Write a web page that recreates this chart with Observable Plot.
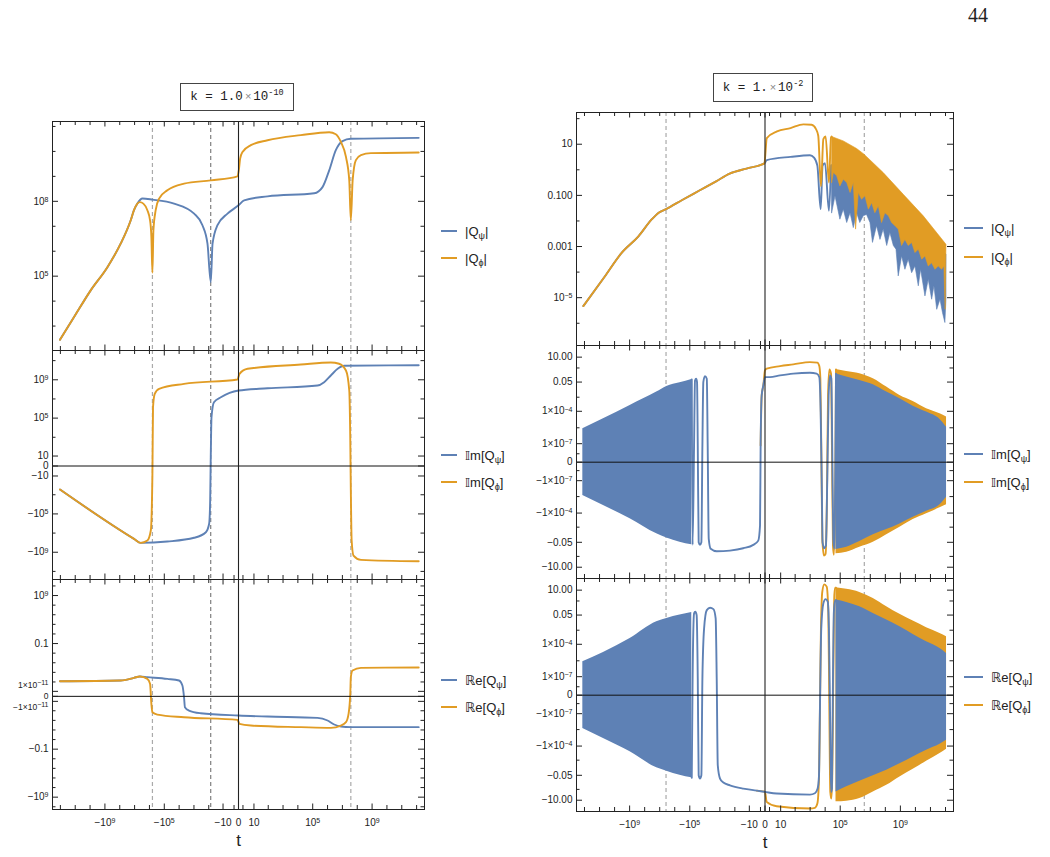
<!DOCTYPE html>
<html>
<head>
<meta charset="utf-8">
<script src="https://cdn.jsdelivr.net/npm/d3@7"></script>
<script src="https://cdn.jsdelivr.net/npm/@observablehq/plot@0.6"></script>
<style>
  html, body { margin: 0; padding: 0; background: #fff; }
  body { width: 1050px; height: 857px; position: relative; overflow: hidden;
         font-family: "Liberation Sans", Arial, "DejaVu Sans", sans-serif; color: #222; }
  .abs { position: absolute; }
  .page { font-family: "Liberation Serif", "Times New Roman", serif; font-size: 20px; line-height: 20px; left: 968px; top: 5px; color: #222; }
  .kbox { position: absolute; border: 1px solid #444; box-sizing: border-box; background: #fff;
          font-family: "Liberation Mono", "DejaVu Sans Mono", monospace; font-size: 12.5px; color: #222;
          display: flex; align-items: center; justify-content: center; }
  .kbox > span { white-space: pre; }
  .kbox .x { color: #888; font-family: "Liberation Sans", sans-serif; font-size: 11px; margin: 0 2px; }
  .kbox sup { font-size: 8.5px; vertical-align: 5px; line-height: 0; }
  .leg { position: absolute; display: flex; align-items: center; height: 18px; font-size: 13px; white-space: nowrap; color: #222; }
  .leg .sw { display: inline-block; height: 2px; margin-right: 8px; }
  .leg sub { font-size: 9px; vertical-align: -3px; line-height: 0; }
</style>
</head>
<body>
<div class="abs page">44</div>
<div class="kbox" style="left:180px; top:83px; width:114px; height:28px;"><span>k = 1.0<span class="x">×</span>10<sup>-10</sup></span></div>
<div class="kbox" style="left:713px; top:73px; width:100px; height:29px;"><span>k = 1.<span class="x">×</span>10<sup>-2</sup></span></div>
<script>
// ---------- colours ----------
const BLUE = "#5E81B5";
const ORANGE = "#E19C24";

// ---------- shared time axis (symmetric log in t) ----------
const X_DOMAIN = [-3.4e12, 3.4e12];
const X_TICKS = [0, 1, -1, 10, -10, 100, -100, 1e3, -1e3, 1e4, -1e4, 1e5, -1e5, 1e6, -1e6, 1e7, -1e7,
                 1e8, -1e8, 1e9, -1e9, 1e10, -1e10, 1e11, -1e11, 1e12, -1e12];
const X_LABEL_AT = [-1e9, -1e5, -10, 0, 10, 1e5, 1e9];
const X_LABELS = ["−10^9", "−10^5", "−10", "0", "10", "10^5", "10^9"];

// ---------- reference times ----------
const DASHED_L = [-6.3e5, 3.7e7];
const DASHED_L_DARK = [-73];
const DASHED_R = [-3.8e6, 4.0e6];

// ================= k = 1.0e-10 =================
// |Q_psi|
const tAbsPsiL = [-1.07e12, -1.23e11, -9.1e9, -6.8e8, -8.7e7, -1.82e7, -1.1e7, -6.5e6, -2.95e6, -6.3e5, -2.19e4, -976, -268, -122, -73, -55, -25, -4.5, 0, 1.4, 90, 1.26e5, 4.57e5, 1.29e6, 3.6e6, 1.02e7, 3.7e7, 1.38e12];
const absPsiL  = [282, 2240, 2.7e4, 2.3e5, 2.0e6, 1.74e7, 4.4e7, 8.1e7, 1.29e8, 1.17e8, 8.1e7, 3.2e7, 1.1e7, 2.0e6, 5.8e4, 2.0e6, 1.1e7, 3.2e7, 6.9e7, 1.1e8, 1.58e8, 2.1e8, 3.7e8, 1.74e9, 1.12e10, 2.6e10, 3.2e10, 3.5e10];
// |Q_phi|
const tAbsPhiL = [-1.07e12, -1.23e11, -9.1e9, -6.8e8, -8.7e7, -1.82e7, -1.1e7, -6.5e6, -4.4e6, -2.57e6, -1.38e6, -9.1e5, -7.4e5, -6.3e5, -5.4e5, -3.8e5, -2.24e5, -6.2e4, -4677, -73, -0.17, 0.047, 0.29, 0.86, 5.8, 90, 1.58e4, 1.29e6, 3.6e6, 7.9e6, 1.74e7, 2.9e7, 3.7e7, 4.9e7, 8.1e7, 1.78e8, 8.3e8, 1.38e12];
const absPhiL  = [282, 2240, 2.7e4, 2.3e5, 2.0e6, 1.74e7, 4.4e7, 8.1e7, 9.3e7, 8.1e7, 4.4e7, 1.74e7, 3.7e6, 1.38e5, 6.9e6, 4.4e7, 1.29e8, 2.75e8, 5.1e8, 6.9e8, 1.0e9, 1.74e9, 5.1e9, 9.5e9, 1.78e10, 2.8e10, 4.5e10, 5.9e10, 4.9e10, 2.4e10, 6.0e9, 6.9e8, 1.74e7, 6.9e8, 4.5e9, 7.1e9, 8.5e9, 9.1e9];
// Im[Q_psi]
const tImPsiL = [-1.07e12, -1.1e7, -3.9e6, -6.2e4, -976, -157, -94, -80, -73, -65, -44, -14.5, 0, 90, 2.1e5, 5.9e5, 1.66e6, 4.8e6, 1.32e7, 1.38e12];
const imPsiL  = [-282, -4.0e7, -1.05e8, -7.6e7, -3.1e7, -8.1e6, -1.07e6, -4000, 7.3, 1.2e5, 4.6e6, 1.5e7, 7.6e7, 1.3e8, 2.5e8, 5.6e8, 2.8e9, 1.4e10, 2.9e10, 3.3e10];
// Im[Q_phi]
const tImPhiL = [-1.07e12, -1.1e7, -3.9e6, -1.38e6, -8.1e5, -6.3e5, -5.75e5, -4.4e5, -2.24e5, -4677, -0.17, 0.17, 3.1, 1.58e4, 1.66e6, 6.0e6, 1.74e7, 2.9e7, 3.4e7, 3.7e7, 4.2e7, 5.6e7, 1.78e8, 1.38e12];
const imPhiL  = [-282, -4.0e7, -1.05e8, -6e7, -5.4e6, -5.5, 1.38e6, 3.4e7, 1.15e8, 3.8e8, 1.07e9, 4.2e9, 1.4e10, 3.9e10, 6.3e10, 4.7e10, 9.3e9, 7.6e7, 457, -362, -6e7, -2.2e9, -6.2e9, -8.7e9];
// Re[Q_psi]
const tRePsiL = [-1.07e12, -8.7e7, -1.1e7, -4.4e6, -1.38e6, -6.2e4, -1.02e4, -6025, -4677, -4073, -2187, -354, 0, 90, 2.1e5, 1e6, 2.8e6, 7.9e6, 3.7e7, 1.38e12];
const rePsiL  = [1.44e-9, 2.0e-9, 7.2e-9, 1.37e-8, 1e-8, 4.4e-9, 2e-9, 1.8e-10, -5e-13, -1.8e-10, -8.9e-10, -3.2e-9, -9.8e-9, -1.6e-8, -3e-8, -1.07e-7, -7.3e-7, -1.9e-6, -2.6e-6, -2.6e-6];
// Re[Q_phi]
const tRePhiL = [-1.07e12, -8.7e7, -1.1e7, -4.4e6, -1.38e6, -9.1e5, -7.4e5, -6.3e5, -2.95e5, -4677, -0.17, 0.17, 5.8, 1.58e4, 1.66e6, 7.9e6, 1.74e7, 2.6e7, 3.4e7, 3.7e7, 4.8e7, 1.78e8, 1.38e12];
const rePhiL  = [1.44e-9, 2.0e-9, 7.2e-9, 1.37e-8, 4.4e-9, 4e-10, -3.5e-11, -2e-9, -6.2e-9, -2.2e-8, -7.9e-8, -5.4e-7, -1.2e-6, -2.6e-6, -3.6e-6, -1.2e-6, -2.4e-7, -4.4e-9, 2.3e-12, 1e-8, 2.4e-7, 8.7e-7, 1.0e-6];

// ================= k = 1e-2 =================
// |Q_psi| smooth part
const tAbsPsiR = [-1.2e12, -4.6e10, -3.5e9, -2.6e8, -3.3e7, -1.17e7, -3.8e6, -3.2e5, -2.3e4, -1780, -223, -16, -0.1, 0.32, 49, 976, 1819, 3019, 5011, 6760, 9772, 1.78e4, 2.45e4];
const absPsiR  = [4.7e-6, 6.6e-5, 5.5e-4, 0.0025, 0.0117, 0.021, 0.029, 0.066, 0.155, 0.355, 0.71, 1.12, 1.78, 2.4, 3.2, 3.7, 3.0, 1.45, 0.029, 1.45, 1.82, 0.025, 1.5];
// |Q_phi| smooth part
const tAbsPhiR = [-1.2e12, -4.6e10, -3.5e9, -2.6e8, -3.3e7, -1.17e7, -3.8e6, -3.2e5, -2.3e4, -1780, -223, -16, -0.1, 0.32, 5.3, 49, 354, 1258, 2454, 3466, 5247, 7585, 1.07e4, 1.78e4, 2.45e4, 2.7e4];
const absPhiR  = [4.7e-6, 6.6e-5, 5.5e-4, 0.0025, 0.0117, 0.021, 0.029, 0.066, 0.155, 0.355, 0.71, 1.12, 1.78, 17.4, 31.6, 42.7, 60, 57.5, 38.9, 21.4, 0.23, 15.8, 20, 0.32, 18.2, 20];
// |Q| oscillating band: upper envelopes and spiky lower edges
const tAbsPhiTop = [2.7e4, 1.6e5, 1.23e6, 3.8e6, 7.2e7, 1.55e9, 3.3e10, 1.07e12];
const absPhiTop  = [20, 13.5, 6.8, 4.1, 0.78, 0.11, 0.0158, 0.00123];
const tAbsPhiLow = [2.7e4, 3.5e4, 5.8e4, 9.5e4, 1.6e5, 2.7e5, 4.5e5, 7.4e5, 1.05e6, 1.6e6, 2.6e6, 4.4e6, 7.4e6, 1.23e7, 2.0e7, 3.4e7, 5.6e7, 9.3e7, 1.6e8, 2.6e8, 4.4e8, 7.2e8, 1.2e9, 2.0e9, 3.3e9, 5.6e9, 9.3e9, 1.55e10, 2.6e10, 4.3e10, 7.1e10, 1.2e11, 2.0e11, 3.3e11, 5.5e11, 7.8e11, 9.5e11, 1.07e12];
const absPhiLow  = [0.32, 0.78, 0.58, 0.235, 0.43, 0.32, 0.13, 0.32, 0.0048, 0.13, 0.071, 0.096, 0.029, 0.052, 0.021, 0.039, 0.0087, 0.021, 0.016, 0.0087, 0.0065, 0.0048, 0.0011, 0.0019, 0.0011, 0.00145, 5.8e-4, 7.9e-4, 3.2e-4, 4.3e-4, 1.74e-4, 2.3e-4, 1.29e-4, 1.74e-4, 1.29e-4, 1.74e-4, 3.5e-6, 1.1e-3];
const tAbsPsiTop = [2.45e4, 1.6e5, 3.8e6, 7.2e7, 1.55e9, 3.3e10, 1.07e12];
const absPsiTop  = [1.5, 4, 1.5, 0.3, 0.04, 0.006, 5e-4];
const tAbsPsiLow = [2.7e4, 4.5e4, 9.5e4, 1.6e5, 2.7e5, 4.5e5, 7.4e5, 1.23e6, 2.0e6, 3.4e6, 5.6e6, 9.5e6, 1.4e7, 2.6e7, 4.4e7, 7.2e7, 1.23e8, 2.0e8, 3.4e8, 5.1e8, 7.2e8, 1.2e9, 2.0e9, 3.3e9, 5.6e9, 9.3e9, 1.55e10, 2.2e10, 4.3e10, 7.1e10, 1.2e11, 1.7e11, 2.6e11, 4.3e11, 6.3e11, 9.1e11, 1.07e12];
const absPsiLow  = [0.021, 0.096, 0.0117, 0.029, 0.0087, 0.021, 0.0055, 0.021, 0.0087, 0.016, 0.018, 0.0087, 0.00145, 0.0065, 0.0019, 0.0048, 0.0011, 0.0035, 0.0011, 7.9e-4, 7.1e-5, 4.3e-4, 1.29e-4, 3.2e-4, 9.5e-5, 1.74e-4, 2.9e-5, 1.29e-4, 1.17e-5, 5.2e-5, 8.7e-6, 2.9e-5, 3.5e-6, 8.7e-6, 2.6e-6, 1.07e-6, 8.7e-6];

// oscillation envelopes for Im / Re (early and late times)
const tBandEarly = [-1.29e12, -5.5e10, -9.3e8, -1.58e7, -3.4e6, -4.5e5, -7.4e4];
const tBandLate  = [5.25e4, 2.7e5, 2.0e6, 1.58e7, 1.23e8, 9.3e8, 7.1e9, 5.5e10, 4.3e11, 1.17e12];

// Im[Q_psi]
const imPsiEarlyHi = [2.4e-6, 2.05e-5, 3.5e-4, 0.0059, 0.02, 0.043, 0.088];
const imPsiEarlyLo = [-2.4e-6, -2.0e-5, -3.4e-4, -0.0083, -0.02, -0.0496, -0.086];
const tImPsiR = [-7.4e4, -6.5e4, -5.2e4, -4.5e4, -3.8e4, -3.3e4, -2.95e4, -2.57e4, -2.1e4, -1.7e4, -1.45e4, -1.26e4, -9772, -7413, -6456, -5495, -4073, -1621, -213, -27, -5, -1.8, -1.14, -0.95, -0.66, -0.29, 0, 1.14, 9, 75, 976, 2690, 4073, 5011, 5888, 6760, 8709, 1.12e4, 1.38e4, 1.7e4, 2.1e4, 2.57e4, 2.95e4, 3.47e4, 4.07e4, 4.68e4, 5.25e4];
const imPsiR  = [0.088, -0.086, 6.8e-8, 0.071, 0.102, 0.0496, 6.8e-8, -0.0496, -0.086, -0.0496, 6.8e-8, 0.0496, 0.177, 0.102, 6.8e-8, -0.024, -0.2, -0.34, -0.29, -0.177, -0.086, -0.035, -1.42e-3, 6.8e-8, 0.0029, 0.0245, 0.144, 0.144, 0.206, 0.30, 0.36, 0.30, 0.144, 8.4e-5, -6.7e-8, -0.0496, -0.177, -0.1, -6.7e-8, 0.0029, 0.206, 0.102, 6.8e-8, -0.024, -0.2, -6.7e-8, 0.30];
const imPsiLateHi = [0.30, 0.144, 0.071, 0.0284, 0.0059, 1.45e-3, 3.0e-4, 8.4e-5, 1.77e-5, 3.4e-6];
const imPsiLateLo = [-0.234, -0.144, -0.0427, -0.0102, -0.0033, -1.0e-3, -2.4e-4, -6.8e-5, -1.73e-5, -3.4e-6];
// Im[Q_phi]
const tImPhiR = [-0.95, -0.66, -0.29, 0, 0.29, 9, 75, 976, 3019, 4073, 4786, 5495, 6456, 8317, 1.07e4, 1.32e4, 1.55e4, 1.9e4, 2.45e4, 2.82e4, 3.3e4, 3.8e4, 4.68e4, 5.25e4];
const imPhiR  = [6.8e-8, 0.0029, 0.0245, 0.6, 0.86, 1.49, 2.14, 3.5, 3.1, 1.49, 0.102, 6.8e-8, -0.024, -0.84, -0.58, -2.4e-6, 0.0029, 0.74, 0.30, 6.8e-8, -0.1, -0.72, -2.4e-6, 0.74];
const imPhiLateHi = [0.74, 0.48, 0.30, 0.102, 0.0171, 0.0029, 8.1e-4, 1.72e-4, 5.9e-5, 2.9e-5];
const imPhiLateLo = [-0.58, -0.42, -0.144, -0.0496, -0.0102, -0.0020, -3.95e-4, -1.17e-4, -3.3e-5, -1.73e-5];

// Re[Q_psi]
const rePsiEarlyHi = [2.4e-6, 1.77e-5, 3.5e-4, 0.0122, 0.0245, 0.0496, 0.088];
const rePsiEarlyLo = [-2.4e-6, -2.0e-5, -3.4e-4, -0.0102, -0.021, -0.0496, -0.086];
const tRePsiR = [-7.4e4, -6.5e4, -5.2e4, -4.3e4, -3.5e4, -2.95e4, -2.57e4, -2.1e4, -1.7e4, -1.45e4, -1.12e4, -7413, -4467, -2690, -1905, -1621, -1379, -976, -588, -213, -27, -2.5, 0, 5, 976, 2088, 3161, 3889, 4466, 5494, 7585, 1.07e4, 1.48e4, 1.78e4, 2.1e4, 2.45e4, 2.82e4, 3.3e4, 3.8e4, 4.47e4, 5.25e4];
const rePsiR  = [-0.086, 6.8e-8, 0.071, 0.102, 0.0496, 6.8e-8, -0.0496, -0.1, -0.0496, 6.8e-8, 0.0029, 0.144, 0.24, 0.177, 0.0245, 6.8e-8, -0.0059, -0.1, -0.234, -0.42, -0.84, -1.29, -1.7, -2.43, -3.03, -2.28, -0.84, -0.0496, -6.7e-8, 0.0029, 0.6, 1.49, 0.86, 0.0029, -6.7e-8, -1.7, -0.84, 6.8e-8, 0.102, 0.86, 1.2];
const rePsiLateHi = [1.2, 0.74, 0.30, 0.071, 0.0171, 0.0042, 8.1e-4, 1.72e-4, 4.1e-5, 1.43e-5];
const rePsiLateLo = [-1.7, -0.58, -0.177, -0.056, -0.0171, -0.0043, -1.0e-3, -2.4e-4, -6.8e-5, -2.9e-5];
// Re[Q_phi]
const tRePhiR = [-2.5, 0, 0.29, 5, 976, 2088, 3019, 3889, 4466, 5247, 6456, 8709, 1.26e4, 1.62e4, 1.9e4, 2.19e4, 2.57e4, 2.95e4, 3.47e4, 4.07e4, 4.68e4, 5.25e4];
const rePhiR  = [-1.29, -1.7, -14.2, -36, -59, -50, -20.5, -0.1, -6.7e-8, 0.0029, 7.2, 34, 21, 0.102, -6.7e-8, -1.7, -7.1, -0.1, 6.8e-8, 3.5, 16.9, 16.9];
const rePhiLateHi = [16.9, 11.8, 6.2, 1.73, 0.30, 0.058, 0.0138, 0.0034, 1.0e-3, 5.0e-4];
const rePhiLateLo = [-14.2, -12.6, -7.1, -1.7, -0.42, -0.070, -0.0138, -0.0025, -4.9e-4, -1.97e-4];

// ---------- y-axis ticks and labels (a "^" starts a superscript) ----------
const L1_TICKS = [1e3, 1e4, 1e5, 1e6, 1e7, 1e8, 1e9, 1e10, 1e11];
const L1_LABEL_AT = [1e5, 1e8];
const L1_LABELS = ["10^5", "10^8"];
const L2_TICKS = [0, 10, -10, 1e3, -1e3, 1e5, -1e5, 1e7, -1e7, 1e9, -1e9, 1e11, -1e11];
const L2_LABEL_AT = [1e9, 1e5, 10, 0, -10, -1e5, -1e9];
const L2_LABELS = ["10^9", "10^5", "10", "0", "−10", "−10^5", "−10^9"];
const L3_TICKS = [0, 1e-11, -1e-11, 1e-9, -1e-9, 1e-7, -1e-7, 1e-5, -1e-5, 1e-3, -1e-3, 0.1, -0.1, 10, -10, 1e3, -1e3, 1e5, -1e5, 1e7, -1e7, 1e9, -1e9, 1e11, -1e11];
const L3_LABEL_AT = [1e9, 0.1, 1e-11, 0, -1e-11, -0.1, -1e9];
const L3_LABELS = ["10^9", "0.1", "1×10^−11", "0", "−1×10^−11", "−0.1", "−10^9"];
const L3_LABEL_SHIFT = [0, 0, -6, 0, 6, 0, 0];
const L3_LABEL_SIZE = [10, 10, 8.5, 8.5, 8.5, 10, 10];
const R1_TICKS = [1e-6, 1e-5, 1e-4, 1e-3, 1e-2, 0.1, 1, 10, 100];
const R1_LABEL_AT = [10, 0.1, 0.001, 1e-5];
const R1_LABELS = ["10", "0.100", "0.001", "10^−5"];
const R23_TICKS = [0, 1e-8, -1e-8, 1e-7, -1e-7, 3e-6, -3e-6, 1e-4, -1e-4, 2e-3, -2e-3, 0.05, -0.05, 1, -1, 10, -10];
const R23_LABEL_AT = [10, 0.05, 1e-4, 1e-7, 0, -1e-7, -1e-4, -0.05, -10];
const R23_LABELS = ["10.00", "0.05", "1×10^−4", "1×10^−7", "0", "−1×10^−7", "−1×10^−4", "−0.05", "−10.00"];

// ---------- row builders ----------
const pts = (t, y) => t.map((v, i) => ({t: v, y: y[i]}));
const band = (t, lo, hi) => t.map((v, i) => ({t: v, lo: lo[i], hi: hi[i]}));
const polygon = (tTop, yTop, tLow, yLow) =>
  pts(tTop, yTop).concat(pts(tLow, yLow).reverse());

const curve = (rows, color) => Plot.line(rows, {x: "t", y: "y", stroke: color, strokeWidth: 1.9, curve: "monotone-x", clip: true});
const area = (rows, color) => Plot.areaY(rows, {x: "t", y1: "lo", y2: "hi", fill: color, curve: "monotone-x", clip: true});
const blob = (rows, color) => Plot.line(rows, {x: "t", y: "y", fill: color, stroke: color, strokeWidth: 0.6, curve: "linear-closed", clip: true});

// turn "a^b" tick texts into a base and a raised exponent
const SVGNS = "http://www.w3.org/2000/svg";
function raiseExponents(svg) {
  svg.querySelectorAll("text").forEach(el => {
    const s = el.textContent;
    if (!s.includes("^")) return;
    const [base, exp] = s.split("^");
    el.textContent = "";
    const a = document.createElementNS(SVGNS, "tspan");
    a.textContent = base;
    const b = document.createElementNS(SVGNS, "tspan");
    b.textContent = exp;
    b.setAttribute("dy", "-0.42em");
    b.setAttribute("font-size", "7");
    el.append(a, b);
  });
}

// ---------- panel factory ----------
const FONT = '"Liberation Sans", Arial, "DejaVu Sans", sans-serif';
function panel(cfg) {
  const [fx0, fy0, fx1, fy1] = cfg.frame;
  const W = fx1 - fx0, H = fy1 - fy0;
  const ML = 70, MR = 6, MT = 4, MB = cfg.bottom ? 50 : 4;
  const marks = [];
  for (const t of cfg.dashed) marks.push(Plot.ruleX([t], {stroke: "#aaa", strokeDasharray: "4,3", strokeWidth: 1.2}));
  for (const t of (cfg.dashedDark || [])) marks.push(Plot.ruleX([t], {stroke: "#666", strokeDasharray: "4,3", strokeWidth: 1}));
  marks.push(...cfg.marks);
  if (cfg.zeroY) marks.push(Plot.ruleY([0], {stroke: "#111", strokeWidth: 1}));
  marks.push(Plot.ruleX([0], {stroke: "#222", strokeWidth: 1.1}));
  marks.push(Plot.frame({stroke: "#222", strokeWidth: 1}));
  // inward ticks on all four sides
  const xMinor = X_TICKS.filter(v => !X_LABEL_AT.includes(v));
  marks.push(Plot.ruleX(X_LABEL_AT, {insetBottom: H - 5.5, stroke: "#222"}));
  marks.push(Plot.ruleX(xMinor, {insetBottom: H - 4, stroke: "#222"}));
  marks.push(Plot.ruleX(X_LABEL_AT, {insetTop: H - 5.5, stroke: "#222"}));
  marks.push(Plot.ruleX(xMinor, {insetTop: H - 4, stroke: "#222"}));
  const yMinor = cfg.yTicks.filter(v => !cfg.yLabelAt.includes(v));
  marks.push(Plot.ruleY(cfg.yLabelAt, {insetRight: W - 6, stroke: "#222"}));
  marks.push(Plot.ruleY(yMinor, {insetRight: W - 3.5, stroke: "#222"}));
  marks.push(Plot.ruleY(cfg.yLabelAt, {insetLeft: W - 6, stroke: "#222"}));
  marks.push(Plot.ruleY(yMinor, {insetLeft: W - 3.5, stroke: "#222"}));
  // y tick labels, grouped by vertical nudge and size
  const shifts = cfg.yShift || cfg.yLabelAt.map(() => 0);
  const sizes = cfg.ySize || cfg.yLabelAt.map(() => 10);
  const rowsAll = cfg.yLabelAt.map((v, i) => ({v, s: cfg.yLabels[i], d: shifts[i], f: sizes[i]}));
  for (const key of new Set(rowsAll.map(r => r.d + "|" + r.f))) {
    const rows = rowsAll.filter(r => r.d + "|" + r.f === key);
    marks.push(Plot.text(rows, {y: "v", text: "s", frameAnchor: "left", textAnchor: "end", dx: -4, dy: rows[0].d, fontSize: rows[0].f, fill: "#222"}));
  }
  if (cfg.bottom) {
    const rows = X_LABEL_AT.map((v, i) => ({v, s: X_LABELS[i]}));
    marks.push(Plot.text(rows, {x: "v", text: "s", frameAnchor: "bottom", dy: 16, fontSize: 10, fill: "#222"}));
    marks.push(Plot.text([{v: 0, s: "t"}], {x: "v", text: "s", frameAnchor: "bottom", dy: 36, fontSize: 17, fill: "#222"}));
  }
  const svg = Plot.plot({
    width: W + ML + MR, height: H + MT + MB,
    marginLeft: ML, marginRight: MR, marginTop: MT, marginBottom: MB,
    x: {type: "symlog", constant: 1, domain: X_DOMAIN, axis: null},
    y: {...cfg.y, axis: null},
    style: {background: "transparent", overflow: "visible", fontFamily: FONT, color: "#222"},
    marks
  });
  raiseExponents(svg);
  svg.style.position = "absolute";
  svg.style.left = (fx0 - ML) + "px";
  svg.style.top = (fy0 - MT) + "px";
  document.body.appendChild(svg);
}

function legend(x, yc, swatchW, items) {
  items.forEach((it, i) => {
    const d = document.createElement("div");
    d.className = "leg";
    d.style.left = x + "px";
    d.style.top = (yc[i] - 9) + "px";
    d.innerHTML = `<span class="sw" style="width:${swatchW}px;background:${it.color}"></span><span>${it.html}</span>`;
    document.body.appendChild(d);
  });
}

// ---------- left column : k = 1.0e-10 ----------
const LX = [52, 424];
panel({
  frame: [LX[0], 121, LX[1], 350],
  y: {type: "log", domain: [105, 1.58e11]},
  yTicks: L1_TICKS, yLabelAt: L1_LABEL_AT, yLabels: L1_LABELS,
  dashed: DASHED_L, dashedDark: DASHED_L_DARK,
  marks: [curve(pts(tAbsPsiL, absPsiL), BLUE), curve(pts(tAbsPhiL, absPhiL), ORANGE)]
});
panel({
  frame: [LX[0], 350, LX[1], 579],
  y: {type: "symlog", constant: 1, domain: [-7.0e11, 1.14e12]},
  yTicks: L2_TICKS, yLabelAt: L2_LABEL_AT, yLabels: L2_LABELS, zeroY: true,
  dashed: DASHED_L, dashedDark: DASHED_L_DARK,
  marks: [curve(pts(tImPsiL, imPsiL), BLUE), curve(pts(tImPhiL, imPhiL), ORANGE)]
});
panel({
  frame: [LX[0], 579, LX[1], 809], bottom: true,
  y: {type: "symlog", constant: 1e-12, domain: [-3.7e11, 2.2e12]},
  yTicks: L3_TICKS, yLabelAt: L3_LABEL_AT, yLabels: L3_LABELS, yShift: L3_LABEL_SHIFT, ySize: L3_LABEL_SIZE, zeroY: true,
  dashed: DASHED_L, dashedDark: DASHED_L_DARK,
  marks: [curve(pts(tRePsiL, rePsiL), BLUE), curve(pts(tRePhiL, rePhiL), ORANGE)]
});

// ---------- right column : k = 1e-2 ----------
const RX = [576, 953];
panel({
  frame: [RX[0], 112, RX[1], 345],
  y: {type: "log", domain: [1.35e-7, 174]},
  yTicks: R1_TICKS, yLabelAt: R1_LABEL_AT, yLabels: R1_LABELS,
  dashed: DASHED_R,
  marks: [
    blob(polygon(tAbsPsiTop, absPsiTop, tAbsPsiLow, absPsiLow), BLUE),
    curve(pts(tAbsPsiR, absPsiR), BLUE),
    blob(polygon(tAbsPhiTop, absPhiTop, tAbsPhiLow, absPhiLow), ORANGE),
    curve(pts(tAbsPhiR, absPhiR), ORANGE)
  ]
});
panel({
  frame: [RX[0], 345, RX[1], 578],
  y: {type: "symlog", constant: 2e-9, domain: [-110, 119]},
  yTicks: R23_TICKS, yLabelAt: R23_LABEL_AT, yLabels: R23_LABELS, zeroY: true,
  dashed: DASHED_R,
  marks: [
    area(band(tBandLate, imPhiLateLo, imPhiLateHi), ORANGE),
    curve(pts(tImPhiR, imPhiR), ORANGE),
    area(band(tBandEarly, imPsiEarlyLo, imPsiEarlyHi), BLUE),
    area(band(tBandLate, imPsiLateLo, imPsiLateHi), BLUE),
    curve(pts(tImPsiR, imPsiR), BLUE)
  ]
});
panel({
  frame: [RX[0], 578, RX[1], 811], bottom: true,
  y: {type: "symlog", constant: 2e-9, domain: [-110, 119]},
  yTicks: R23_TICKS, yLabelAt: R23_LABEL_AT, yLabels: R23_LABELS, zeroY: true,
  dashed: DASHED_R,
  marks: [
    area(band(tBandLate, rePhiLateLo, rePhiLateHi), ORANGE),
    curve(pts(tRePhiR, rePhiR), ORANGE),
    area(band(tBandEarly, rePsiEarlyLo, rePsiEarlyHi), BLUE),
    area(band(tBandLate, rePsiLateLo, rePsiLateHi), BLUE),
    curve(pts(tRePsiR, rePsiR), BLUE)
  ]
});

// ---------- legends ----------
const PSI = "ψ", PHI = "ϕ";
legend(441, [231, 258], 16, [
  {color: BLUE, html: `|Q<sub>${PSI}</sub>|`}, {color: ORANGE, html: `|Q<sub>${PHI}</sub>|`}]);
legend(441, [455, 482], 16, [
  {color: BLUE, html: `𝕀m[Q<sub>${PSI}</sub>]`}, {color: ORANGE, html: `𝕀m[Q<sub>${PHI}</sub>]`}]);
legend(441, [680, 707], 16, [
  {color: BLUE, html: `ℝe[Q<sub>${PSI}</sub>]`}, {color: ORANGE, html: `ℝe[Q<sub>${PHI}</sub>]`}]);
legend(964, [228, 257], 19, [
  {color: BLUE, html: `|Q<sub>${PSI}</sub>|`}, {color: ORANGE, html: `|Q<sub>${PHI}</sub>|`}]);
legend(964, [454, 482], 19, [
  {color: BLUE, html: `𝕀m[Q<sub>${PSI}</sub>]`}, {color: ORANGE, html: `𝕀m[Q<sub>${PHI}</sub>]`}]);
legend(964, [677, 705], 19, [
  {color: BLUE, html: `ℝe[Q<sub>${PSI}</sub>]`}, {color: ORANGE, html: `ℝe[Q<sub>${PHI}</sub>]`}]);
</script>
</body>
</html>
